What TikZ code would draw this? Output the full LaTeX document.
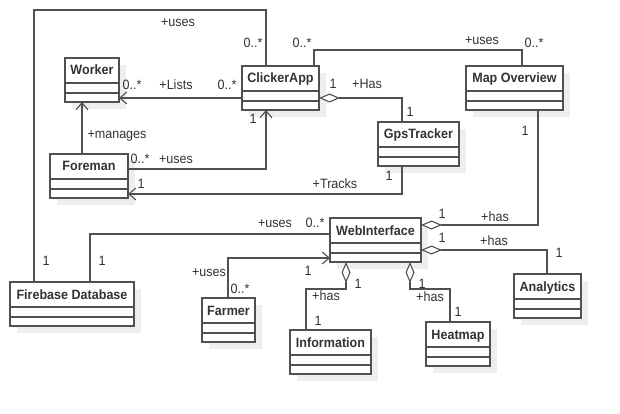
\documentclass[tikz,border=0pt]{standalone}
\usepackage{fontspec}
\setmainfont{Liberation Sans}[FakeStretch=0.93]
\usetikzlibrary{arrows.meta,shadows,calc}
\definecolor{ln}{HTML}{505050}
\definecolor{tx}{HTML}{333333}
\definecolor{sh}{HTML}{EEEEEE}
\tikzset{
 cls/.style={draw=ln, line width=1.1pt, fill=white, rectangle, inner sep=0pt, outer sep=0pt, minimum height=44pt,
   drop shadow={shadow xshift=7pt, shadow yshift=-7pt, fill=sh, opacity=1}},
 ttl/.style={font=\fontsize{13.5}{15}\selectfont\bfseries, text=tx, inner sep=0pt, text height=9.5pt, text depth=2.5pt},
 lbl/.style={font=\fontsize{13.5}{15}\selectfont, text=tx, inner sep=0pt, anchor=base},
 conn/.style={draw=ln, line width=1.1pt},
 arr/.style={conn, -{Straight Barb[length=7pt,width=12pt]}},
 agg/.style={conn, {Diamond[length=21pt,width=9pt,fill=white]}-},
}
\newcommand\umlbox[5]{%
 \node[cls, minimum width=#4pt, anchor=north west] (#1) at (#2,#3) {};
 \node[ttl] (#1t) at ([yshift=-13.5pt]#1.north) {#5};
 \draw[conn] ([yshift=-25pt]#1.north west) -- ([yshift=-25pt]#1.north east);
 \draw[conn] ([yshift=-35pt]#1.north west) -- ([yshift=-35pt]#1.north east);
}
\begin{document}
\begin{tikzpicture}[x=1pt,y=-1pt]
\useasboundingbox[fill=white] (0,0) rectangle (620,414);
% classes
\umlbox{worker}{65}{58}{54}{Worker}
\umlbox{click}{242}{66}{77}{ClickerApp}
\umlbox{map}{466}{66}{97}{Map Overview}
\umlbox{gps}{378}{122}{81}{GpsTracker}
\umlbox{foreman}{50}{154}{78}{Foreman}
\umlbox{web}{330}{218}{91}{WebInterface}
\umlbox{fire}{10}{282}{124}{Firebase Database}
\umlbox{farmer}{202}{298}{53}{Farmer}
\umlbox{ana}{514}{274}{67}{Analytics}
\umlbox{info}{290}{330}{81}{Information}
\umlbox{heat}{426}{322}{64}{Heatmap}
% bend points
\coordinate (p1) at (266,10); \coordinate (p2) at (34,10);
\coordinate (p3) at (314,50); \coordinate (p4) at (522,50);
\coordinate (p5) at (0,98);
\coordinate (p6) at (82,0);
\coordinate (p7) at (266,169);
\coordinate (p8) at (402,98);
\coordinate (p9) at (402,194);
\coordinate (p10) at (538,225);
\coordinate (p11) at (547,250);
\coordinate (p12) at (346,289); \coordinate (p13) at (306,289);
\coordinate (p14) at (410,289); \coordinate (p15) at (450,289);
\coordinate (p16) at (90,234);
\coordinate (p17) at (228,258);
% connectors
\draw[conn] (click.north -| p1) -- (p1) -- (p2) -- (fire.north -| p2);
\draw[conn] (click.north -| p3) -- (p3) -- (p4) -- (map.north -| p4);
\draw[arr] (click.west |- p5) -- (worker.east |- p5);
\draw[arr] (foreman.north -| p6) -- (worker.south -| p6);
\draw[arr] (foreman.east |- p7) -- (p7) -- (click.south -| p7);
\draw[agg] (click.east |- p8) -- (p8) -- (gps.north -| p8);
\draw[arr] (gps.south -| p9) -- (p9) -- (foreman.east |- p9);
\draw[agg] (web.east |- p10) -- (p10) -- (map.south -| p10);
\draw[agg] (web.east |- p11) -- (p11) -- (ana.north -| p11);
\draw[agg] (web.south -| p12) -- (p12) -- (p13) -- (info.north -| p13);
\draw[agg] (web.south -| p14) -- (p14) -- (p15) -- (heat.north -| p15);
\draw[conn] (fire.north -| p16) -- (p16) -- (web.west |- p16);
\draw[arr] (farmer.north -| p17) -- (p17) -- (web.west |- p17);
% labels
\node[lbl] (l1) at (178,27) {+uses};
\node[lbl] (l2) at (253,48) {0..*};
\node[lbl] (l3) at (302,48) {0..*};
\node[lbl] (l4) at (482,45) {+uses};
\node[lbl] (l5) at (534,48) {0..*};
\node[lbl] (l6) at (132,90) {0..*};
\node[lbl] (l7) at (176,90) {+Lists};
\node[lbl] (l8) at (227,90) {0..*};
\node[lbl] (l9) at (333,89) {1};
\node[lbl] (l10) at (367,89) {+Has};
\node[lbl] (l11) at (410,117) {1};
\node[lbl] (l12) at (253,124) {1};
\node[lbl] (l13) at (117,139) {+manages};
\node[lbl] (l14) at (140,164) {0..*};
\node[lbl] (l15) at (176,164) {+uses};
\node[lbl] (l16) at (141,188) {1};
\node[lbl] (l17) at (335,188) {+Tracks};
\node[lbl] (l18) at (389,180) {1};
\node[lbl] (l19) at (525,136) {1};
\node[lbl] (l20) at (275,227) {+uses};
\node[lbl] (l21) at (315,227) {0..*};
\node[lbl] (l22) at (442,218) {1};
\node[lbl] (l23) at (495,221) {+has};
\node[lbl] (l24) at (442,242) {1};
\node[lbl] (l25) at (494,245) {+has};
\node[lbl] (l26) at (559,257) {1};
\node[lbl] (l27) at (46,265) {1};
\node[lbl] (l28) at (102,265) {1};
\node[lbl] (l29) at (209,276) {+uses};
\node[lbl] (l30) at (308,275) {1};
\node[lbl] (l31) at (240,293) {0..*};
\node[lbl] (l32) at (358,288) {1};
\node[lbl] (l33) at (326,300) {+has};
\node[lbl] (l34) at (422,288) {1};
\node[lbl] (l35) at (430,301) {+has};
\node[lbl] (l36) at (458,316) {1};
\node[lbl] (l37) at (318,325) {1};
\end{tikzpicture}
\end{document}
